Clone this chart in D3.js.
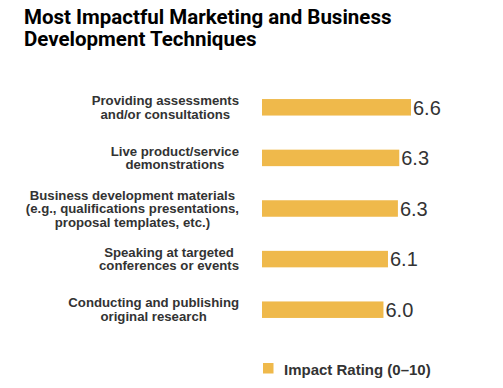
<!DOCTYPE html>
<html>
<head>
<meta charset="utf-8">
<script src="https://cdn.jsdelivr.net/npm/d3@7"></script>
<style>
  body { margin: 0; background: #fff; }
  svg { display: block; }
</style>
</head>
<body>
<div id="chart"></div>
<script>
/* ----------------------------------------------------- Data ------------------------------------------------------------------------- */

const titleLines = ["Most Impactful Marketing and Business", "Development Techniques"];

const categories = [
    ["Providing assessments", "and/or consultations"],
    ["Live product/service", "demonstrations"],
    ["Business development materials", "(e.g., qualifications presentations,", "proposal templates, etc.)"],
    ["Speaking at targeted", "conferences or events"],
    ["Conducting and publishing", "original research"]
];

const impactValues = [6.6, 6.34, 6.31, 6.09, 5.99];

const legendLabel = "Impact Rating (0–10)";

/* ----------------------------------------------------- Chart ------------------------------------------------------------------------ */

function drawChart() {
    const width = 503;
    const height = 388;
    const barColor = '#efb94b';
    const textColor = '#333333';
    const labelRight = 239;
    const lineHeight = 13.5;

    const svg = d3.select('#chart').append('svg')
        .attr('width', width)
        .attr('height', height);

    /* Title */
    svg.append('text')
        .attr('x', 24)
        .attr('y', 24)
        .style('font-family', 'Roboto, "Liberation Sans", sans-serif')
        .style('font-weight', '700')
        .style('font-size', '20.5px')
        .style('fill', '#000')
        .selectAll('tspan')
        .data(titleLines)
        .enter()
        .append('tspan')
        .attr('x', 24)
        .attr('dy', (d, i) => i === 0 ? 0 : 22)
        .text(d => d);

    const keys = categories.map((d, i) => i);

    const yScale = d3.scaleBand()
        .domain(keys)
        .range([82, 335])
        .paddingInner(0.674)
        .paddingOuter(0.337);

    const xScale = d3.scaleLinear()
        .domain([3.3, 6.6])
        .range([262, 411]);

    /* Bars */
    svg.selectAll('.bar')
        .data(impactValues)
        .enter()
        .append('rect')
        .attr('class', 'bar')
        .attr('x', xScale(3.3))
        .attr('y', (d, i) => yScale(i))
        .attr('width', d => xScale(d) - xScale(3.3))
        .attr('height', yScale.bandwidth())
        .attr('fill', barColor);

    /* Value labels */
    svg.selectAll('.value')
        .data(impactValues)
        .enter()
        .append('text')
        .attr('class', 'value')
        .attr('x', d => xScale(d) + 2)
        .attr('y', (d, i) => yScale(i) + yScale.bandwidth() / 2)
        .attr('dy', '0.36em')
        .style('font-family', '"Liberation Sans", Arial, sans-serif')
        .style('font-size', '20px')
        .style('fill', textColor)
        .text(d => d.toFixed(1));

    /* Category labels: lines centred inside a right-aligned block */
    const labels = svg.selectAll('.cat')
        .data(categories)
        .enter()
        .append('text')
        .attr('class', 'cat')
        .attr('text-anchor', 'middle')
        .style('font-family', '"Liberation Sans", Arial, sans-serif')
        .style('font-weight', '700')
        .style('font-size', '13.2px')
        .style('fill', textColor);

    labels.each(function (lines, i) {
        const t = d3.select(this);
        const cy = yScale(i) + yScale.bandwidth() / 2;
        const firstBaseline = cy - (lines.length - 1) * lineHeight / 2 + 4.5;
        t.selectAll('tspan')
            .data(lines)
            .enter()
            .append('tspan')
            .attr('x', 0)
            .attr('y', (d, j) => firstBaseline + j * lineHeight)
            .text(d => d);
        const w = this.getBBox().width;
        t.attr('transform', `translate(${labelRight - w / 2}, 0)`);
    });

    /* Legend */
    const legend = svg.append('g')
        .attr('transform', 'translate(263, 363)');

    legend.append('rect')
        .attr('width', 10.5)
        .attr('height', 10.5)
        .attr('fill', barColor);

    legend.append('text')
        .attr('x', 21)
        .attr('y', 11.5)
        .style('font-family', '"Liberation Sans", Arial, sans-serif')
        .style('font-weight', '700')
        .style('font-size', '15px')
        .style('fill', textColor)
        .text(legendLabel);
}

drawChart();
</script>
</body>
</html>
